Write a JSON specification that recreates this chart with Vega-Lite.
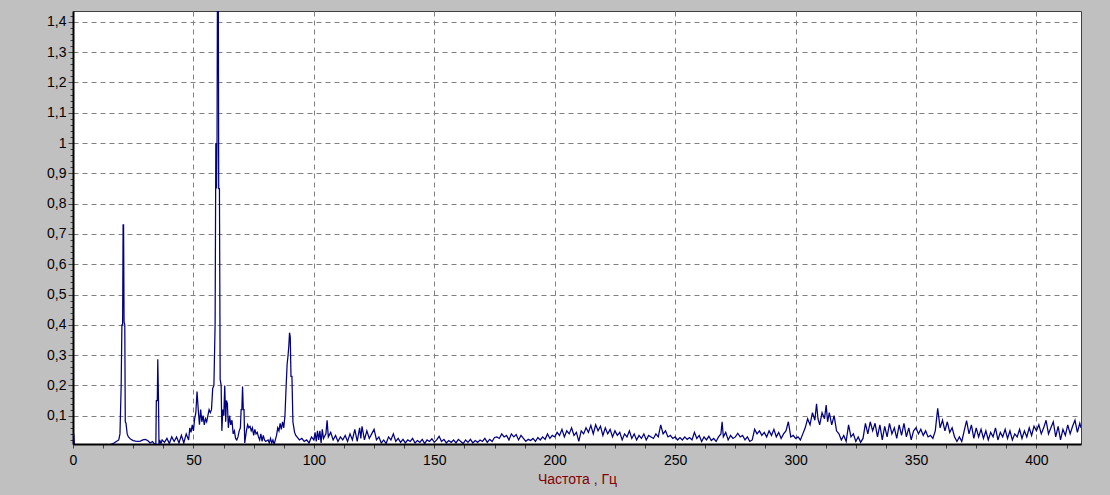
{
  "$schema": "https://vega.github.io/schema/vega-lite/v6.json",
  "autosize": "none",
  "width": 1008,
  "height": 433,
  "padding": {"left": 73, "top": 11, "right": 29, "bottom": 51},
  "background": "#c0c0c0",
  "config": {
    "view": {"fill": "white", "stroke": "#404040", "strokeWidth": 1},
    "font": "Liberation Sans"
  },
  "data": {"values": [
    {"f":0,"a":0.045},{"f":0.3,"a":0.04},{"f":0.6,"a":0.004},{"f":1,"a":0.003},{"f":15,"a":0.003},{"f":16,"a":0.006},{"f":17,"a":0.01},{"f":18,"a":0.015},{"f":19,"a":0.02},{"f":19.5,"a":0.04},
    {"f":20,"a":0.2},{"f":20.3,"a":0.4},{"f":20.6,"a":0.4},{"f":20.8,"a":0.73},{"f":21,"a":0.73},{"f":21.2,"a":0.41},{"f":21.5,"a":0.4},{"f":21.7,"a":0.08},{"f":22,"a":0.075},{"f":22.5,"a":0.04},
    {"f":23,"a":0.03},{"f":24,"a":0.022},{"f":25,"a":0.018},{"f":26,"a":0.016},{"f":27,"a":0.015},{"f":28,"a":0.016},{"f":29,"a":0.02},{"f":30,"a":0.022},{"f":31,"a":0.018},{"f":32,"a":0.01},
    {"f":33,"a":0.015},{"f":34,"a":0.005},{"f":34.4,"a":0.01},{"f":34.6,"a":0.15},{"f":35,"a":0.15},{"f":35.2,"a":0.286},{"f":35.5,"a":0.15},{"f":35.7,"a":0.005},{"f":36,"a":0.02},{"f":36.5,"a":0.008},
    {"f":37,"a":0.02},{"f":38,"a":0.012},{"f":39,"a":0.025},{"f":40,"a":0.008},{"f":41,"a":0.03},{"f":42,"a":0.015},{"f":43,"a":0.03},{"f":44,"a":0.01},{"f":45,"a":0.035},{"f":46,"a":0.01},
    {"f":47,"a":0.04},{"f":48,"a":0.02},{"f":48.5,"a":0.06},{"f":49,"a":0.045},{"f":49.5,"a":0.07},{"f":50,"a":0.05},{"f":50.5,"a":0.09},{"f":51,"a":0.11},{"f":51.5,"a":0.18},{"f":52,"a":0.12},
    {"f":52.5,"a":0.07},{"f":53,"a":0.12},{"f":53.5,"a":0.08},{"f":54,"a":0.1},{"f":54.5,"a":0.07},{"f":55,"a":0.09},{"f":55.5,"a":0.08},{"f":56,"a":0.1},{"f":56.5,"a":0.12},{"f":57,"a":0.11},
    {"f":57.5,"a":0.12},{"f":58,"a":0.19},{"f":58.5,"a":0.2},{"f":59,"a":0.4},{"f":59.3,"a":1.0},{"f":59.6,"a":0.85},{"f":59.8,"a":1.0},{"f":60,"a":1.6},{"f":60.3,"a":1.6},{"f":60.5,"a":0.85},
    {"f":60.8,"a":0.85},{"f":61.1,"a":0.22},{"f":61.5,"a":0.2},{"f":61.8,"a":0.05},{"f":62.2,"a":0.12},{"f":62.6,"a":0.1},{"f":63,"a":0.2},{"f":63.4,"a":0.08},{"f":63.7,"a":0.15},{"f":64.1,"a":0.14},
    {"f":64.5,"a":0.06},{"f":65,"a":0.1},{"f":65.5,"a":0.07},{"f":66,"a":0.085},{"f":66.5,"a":0.04},{"f":67,"a":0.05},{"f":67.5,"a":0.025},{"f":68,"a":0.02},{"f":68.5,"a":0.03},{"f":69,"a":0.05},
    {"f":69.5,"a":0.06},{"f":69.8,"a":0.12},{"f":70.1,"a":0.12},{"f":70.4,"a":0.196},{"f":70.7,"a":0.12},{"f":71,"a":0.12},{"f":71.3,"a":0.01},{"f":72,"a":0.05},{"f":72.5,"a":0.07},{"f":73,"a":0.06},
    {"f":73.5,"a":0.065},{"f":74,"a":0.05},{"f":74.5,"a":0.06},{"f":75,"a":0.035},{"f":75.5,"a":0.055},{"f":76,"a":0.04},{"f":76.5,"a":0.045},{"f":77,"a":0.03},{"f":77.5,"a":0.02},{"f":78,"a":0.04},
    {"f":78.5,"a":0.015},{"f":79,"a":0.035},{"f":79.5,"a":0.02},{"f":80,"a":0.015},{"f":81,"a":0.02},{"f":81.5,"a":0.01},{"f":82,"a":0.025},{"f":82.5,"a":0.01},{"f":83,"a":0.02},{"f":83.5,"a":0.005},
    {"f":84,"a":0.02},{"f":84.5,"a":0.035},{"f":85,"a":0.06},{"f":85.5,"a":0.05},{"f":86,"a":0.075},{"f":86.5,"a":0.055},{"f":87,"a":0.08},{"f":87.5,"a":0.06},{"f":88,"a":0.1},{"f":88.5,"a":0.2},
    {"f":88.9,"a":0.27},{"f":89.3,"a":0.3},{"f":89.6,"a":0.33},{"f":89.9,"a":0.374},{"f":90.2,"a":0.36},{"f":90.5,"a":0.23},{"f":90.9,"a":0.23},{"f":91.3,"a":0.08},{"f":91.7,"a":0.06},{"f":92,"a":0.045},
    {"f":92.5,"a":0.035},{"f":93,"a":0.03},{"f":94,"a":0.02},{"f":95,"a":0.025},{"f":96,"a":0.015},{"f":97,"a":0.02},{"f":98,"a":0.01},{"f":99,"a":0.03},{"f":100,"a":0.02},{"f":100.5,"a":0.045},
    {"f":101,"a":0.015},{"f":101.5,"a":0.05},{"f":102,"a":0.02},{"f":102.5,"a":0.05},{"f":103,"a":0.01},{"f":103.5,"a":0.055},{"f":104,"a":0.025},{"f":105,"a":0.04},{"f":105.5,"a":0.085},{"f":106,"a":0.03},
    {"f":107,"a":0.045},{"f":108,"a":0.02},{"f":109,"a":0.035},{"f":110,"a":0.015},{"f":111,"a":0.03},{"f":112,"a":0.02},{"f":113,"a":0.035},{"f":114,"a":0.015},{"f":115,"a":0.04},{"f":116,"a":0.02},
    {"f":117,"a":0.055},{"f":118,"a":0.015},{"f":119,"a":0.06},{"f":119.5,"a":0.025},{"f":120,"a":0.065},{"f":121,"a":0.02},{"f":122,"a":0.05},{"f":123,"a":0.025},{"f":124,"a":0.04},{"f":125,"a":0.055},
    {"f":126,"a":0.02},{"f":127,"a":0.03},{"f":128,"a":0.01},{"f":129,"a":0.02},{"f":130,"a":0.008},{"f":131,"a":0.03},{"f":132,"a":0.02},{"f":133,"a":0.04},{"f":134,"a":0.015},{"f":135,"a":0.025},
    {"f":136,"a":0.012},{"f":137,"a":0.022},{"f":138,"a":0.01},{"f":139,"a":0.02},{"f":140,"a":0.015},{"f":141,"a":0.025},{"f":142,"a":0.01},{"f":143,"a":0.018},{"f":144,"a":0.012},{"f":145,"a":0.022},
    {"f":146,"a":0.008},{"f":147,"a":0.02},{"f":148,"a":0.015},{"f":149,"a":0.024},{"f":150,"a":0.012},{"f":151,"a":0.02},{"f":152,"a":0.032},{"f":153,"a":0.015},{"f":154,"a":0.022},{"f":155,"a":0.01},
    {"f":156,"a":0.018},{"f":157,"a":0.012},{"f":158,"a":0.02},{"f":159,"a":0.01},{"f":160,"a":0.022},{"f":161,"a":0.015},{"f":162,"a":0.008},{"f":163,"a":0.02},{"f":164,"a":0.012},{"f":165,"a":0.022},
    {"f":166,"a":0.01},{"f":167,"a":0.018},{"f":168,"a":0.012},{"f":169,"a":0.02},{"f":170,"a":0.015},{"f":171,"a":0.025},{"f":172,"a":0.012},{"f":173,"a":0.022},{"f":174,"a":0.015},{"f":175,"a":0.028},
    {"f":176,"a":0.03},{"f":177,"a":0.025},{"f":178,"a":0.04},{"f":179,"a":0.03},{"f":180,"a":0.035},{"f":181,"a":0.02},{"f":182,"a":0.04},{"f":183,"a":0.03},{"f":184,"a":0.038},{"f":185,"a":0.02},
    {"f":186,"a":0.035},{"f":187,"a":0.025},{"f":188,"a":0.015},{"f":189,"a":0.022},{"f":190,"a":0.018},{"f":191,"a":0.025},{"f":192,"a":0.015},{"f":193,"a":0.028},{"f":194,"a":0.02},{"f":195,"a":0.03},
    {"f":196,"a":0.022},{"f":197,"a":0.04},{"f":198,"a":0.025},{"f":199,"a":0.035},{"f":200,"a":0.03},{"f":201,"a":0.045},{"f":202,"a":0.035},{"f":203,"a":0.055},{"f":204,"a":0.03},{"f":205,"a":0.05},
    {"f":206,"a":0.04},{"f":207,"a":0.06},{"f":208,"a":0.035},{"f":209,"a":0.045},{"f":210,"a":0.015},{"f":211,"a":0.05},{"f":212,"a":0.04},{"f":213,"a":0.06},{"f":214,"a":0.045},{"f":215,"a":0.068},
    {"f":216,"a":0.04},{"f":217,"a":0.07},{"f":218,"a":0.05},{"f":219,"a":0.065},{"f":220,"a":0.035},{"f":221,"a":0.06},{"f":222,"a":0.04},{"f":223,"a":0.055},{"f":224,"a":0.03},{"f":225,"a":0.05},
    {"f":226,"a":0.035},{"f":227,"a":0.045},{"f":228,"a":0.02},{"f":229,"a":0.04},{"f":230,"a":0.03},{"f":231,"a":0.05},{"f":232,"a":0.025},{"f":233,"a":0.04},{"f":234,"a":0.02},{"f":235,"a":0.035},
    {"f":236,"a":0.025},{"f":237,"a":0.04},{"f":238,"a":0.02},{"f":239,"a":0.035},{"f":240,"a":0.03},{"f":241,"a":0.025},{"f":242,"a":0.04},{"f":243,"a":0.03},{"f":244,"a":0.07},{"f":245,"a":0.04},
    {"f":246,"a":0.05},{"f":247,"a":0.03},{"f":248,"a":0.035},{"f":249,"a":0.025},{"f":250,"a":0.03},{"f":251,"a":0.02},{"f":252,"a":0.028},{"f":253,"a":0.02},{"f":254,"a":0.03},{"f":255,"a":0.022},
    {"f":256,"a":0.028},{"f":257,"a":0.02},{"f":258,"a":0.045},{"f":259,"a":0.025},{"f":260,"a":0.035},{"f":261,"a":0.015},{"f":262,"a":0.03},{"f":263,"a":0.02},{"f":264,"a":0.032},{"f":265,"a":0.018},
    {"f":266,"a":0.025},{"f":267,"a":0.015},{"f":268,"a":0.03},{"f":269,"a":0.04},{"f":269.5,"a":0.08},{"f":270,"a":0.03},{"f":271,"a":0.045},{"f":272,"a":0.02},{"f":273,"a":0.035},{"f":274,"a":0.025},
    {"f":275,"a":0.03},{"f":276,"a":0.042},{"f":277,"a":0.03},{"f":278,"a":0.035},{"f":279,"a":0.02},{"f":280,"a":0.03},{"f":281,"a":0.015},{"f":282,"a":0.02},{"f":283,"a":0.055},{"f":284,"a":0.04},
    {"f":285,"a":0.05},{"f":286,"a":0.035},{"f":287,"a":0.045},{"f":288,"a":0.03},{"f":289,"a":0.05},{"f":290,"a":0.035},{"f":291,"a":0.055},{"f":292,"a":0.03},{"f":293,"a":0.045},{"f":294,"a":0.025},
    {"f":295,"a":0.04},{"f":296,"a":0.05},{"f":297,"a":0.08},{"f":298,"a":0.03},{"f":299,"a":0.035},{"f":300,"a":0.025},{"f":301,"a":0.03},{"f":302,"a":0.02},{"f":303,"a":0.04},{"f":304,"a":0.06},
    {"f":305,"a":0.09},{"f":306,"a":0.07},{"f":307,"a":0.11},{"f":308,"a":0.085},{"f":308.7,"a":0.139},{"f":309.3,"a":0.09},{"f":310,"a":0.07},{"f":311,"a":0.11},{"f":312,"a":0.09},{"f":312.7,"a":0.135},
    {"f":313.3,"a":0.08},{"f":314,"a":0.11},{"f":315,"a":0.07},{"f":316,"a":0.1},{"f":317,"a":0.05},{"f":318,"a":0.04},{"f":319,"a":0.02},{"f":320,"a":0.035},{"f":321,"a":0.015},{"f":322,"a":0.07},
    {"f":323,"a":0.03},{"f":324,"a":0.04},{"f":325,"a":0.015},{"f":326,"a":0.03},{"f":327,"a":0.012},{"f":328,"a":0.025},{"f":329,"a":0.075},{"f":330,"a":0.04},{"f":331,"a":0.08},{"f":332,"a":0.05},
    {"f":333,"a":0.075},{"f":334,"a":0.03},{"f":335,"a":0.07},{"f":336,"a":0.02},{"f":337,"a":0.065},{"f":338,"a":0.03},{"f":339,"a":0.075},{"f":340,"a":0.04},{"f":341,"a":0.06},{"f":342,"a":0.025},
    {"f":343,"a":0.07},{"f":344,"a":0.035},{"f":345,"a":0.075},{"f":346,"a":0.03},{"f":347,"a":0.06},{"f":348,"a":0.02},{"f":349,"a":0.05},{"f":350,"a":0.06},{"f":351,"a":0.04},{"f":352,"a":0.055},
    {"f":353,"a":0.035},{"f":354,"a":0.05},{"f":355,"a":0.03},{"f":356,"a":0.035},{"f":357,"a":0.025},{"f":358,"a":0.05},{"f":359,"a":0.124},{"f":360,"a":0.06},{"f":361,"a":0.085},{"f":362,"a":0.05},
    {"f":363,"a":0.08},{"f":364,"a":0.045},{"f":365,"a":0.06},{"f":366,"a":0.03},{"f":367,"a":0.015},{"f":368,"a":0.03},{"f":369,"a":0.015},{"f":370,"a":0.05},{"f":371,"a":0.084},{"f":372,"a":0.04},
    {"f":373,"a":0.07},{"f":374,"a":0.025},{"f":375,"a":0.06},{"f":376,"a":0.03},{"f":377,"a":0.055},{"f":378,"a":0.025},{"f":379,"a":0.05},{"f":380,"a":0.02},{"f":381,"a":0.045},{"f":382,"a":0.03},
    {"f":383,"a":0.06},{"f":384,"a":0.02},{"f":385,"a":0.045},{"f":386,"a":0.03},{"f":387,"a":0.055},{"f":388,"a":0.025},{"f":389,"a":0.05},{"f":390,"a":0.02},{"f":391,"a":0.04},{"f":392,"a":0.03},
    {"f":393,"a":0.055},{"f":394,"a":0.025},{"f":395,"a":0.05},{"f":396,"a":0.03},{"f":397,"a":0.06},{"f":398,"a":0.035},{"f":399,"a":0.065},{"f":400,"a":0.05},{"f":401,"a":0.07},{"f":402,"a":0.04},
    {"f":403,"a":0.06},{"f":404,"a":0.085},{"f":405,"a":0.04},{"f":406,"a":0.06},{"f":407,"a":0.08},{"f":408,"a":0.03},{"f":409,"a":0.065},{"f":410,"a":0.02},{"f":411,"a":0.055},{"f":412,"a":0.035},
    {"f":413,"a":0.07},{"f":414,"a":0.04},{"f":415,"a":0.065},{"f":416,"a":0.085},{"f":417,"a":0.045},{"f":418,"a":0.075},{"f":418.5,"a":0.06}
  ]},
  "mark": {"type": "line", "color": "#000080", "strokeWidth": 1.25, "clip": true},
  "encoding": {
    "x": {
      "field": "f", "type": "quantitative",
      "scale": {"domain": [0, 418.5], "nice": false, "zero": false},
      "axis": {
        "title": "Частота , Гц",
        "titleColor": "#800000",
        "titleFontSize": 14,
        "titleFontWeight": "normal",
        "titleFont": "Liberation Sans",
        "titlePadding": 5,
        "values": [0,12.5,25,37.5,50,62.5,75,87.5,100,112.5,125,137.5,150,162.5,175,187.5,200,212.5,225,237.5,250,262.5,275,287.5,300,312.5,325,337.5,350,362.5,375,387.5,400,412.5],
        "labelExpr": "datum.value % 50 === 0 ? datum.value : ''",
        "labelFontSize": 14,
        "labelColor": "#000000",
        "labelPadding": 5,
        "labelFlush": false,
        "labelOverlap": false,
        "domainColor": "#000000",
        "domainWidth": 2,
        "tickColor": "#404040",
        "tickSize": 4,
        "grid": true,
        "gridColor": "#808080",
        "gridDash": [5, 4],
        "gridWidth": 1,
        "gridOpacity": {"condition": {"test": "datum.value % 50 !== 0 || datum.value === 0", "value": 0}, "value": 1}
      }
    },
    "y": {
      "field": "a", "type": "quantitative",
      "scale": {"domain": [0.0066, 1.436], "nice": false, "zero": false},
      "axis": {
        "title": null,
        "values": [0.02,0.04,0.06,0.08,0.1,0.12,0.14,0.16,0.18,0.2,0.22,0.24,0.26,0.28,0.3,0.32,0.34,0.36,0.38,0.4,0.42,0.44,0.46,0.48,0.5,0.52,0.54,0.56,0.58,0.6,0.62,0.64,0.66,0.68,0.7,0.72,0.74,0.76,0.78,0.8,0.82,0.84,0.86,0.88,0.9,0.92,0.94,0.96,0.98,1,1.02,1.04,1.06,1.08,1.1,1.12,1.14,1.16,1.18,1.2,1.22,1.24,1.26,1.28,1.3,1.32,1.34,1.36,1.38,1.4,1.42],
        "labelExpr": "abs(datum.value*10 - round(datum.value*10)) < 0.001 ? replace(format(datum.value, '.2~f'), '.', ',') : ''",
        "labelFontSize": 14,
        "labelColor": "#000000",
        "labelPadding": 2,
        "labelOverlap": false,
        "labelFlush": false,
        "domainColor": "#000000",
        "domainWidth": 2,
        "tickColor": "#404040",
        "tickSize": {"condition": {"test": "abs(datum.value*10 - round(datum.value*10)) < 0.001", "value": 5}, "value": 3},
        "grid": true,
        "gridColor": "#808080",
        "gridDash": [5, 4],
        "gridWidth": 1,
        "gridOpacity": {"condition": {"test": "abs(datum.value*10 - round(datum.value*10)) < 0.001", "value": 1}, "value": 0}
      }
    }
  }
}
